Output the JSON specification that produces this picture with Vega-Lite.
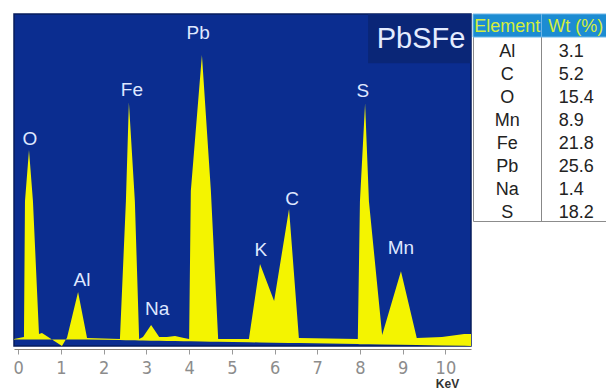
{
  "$schema": "https://vega.github.io/schema/vega-lite/v6.json",
  "background": "white",
  "padding": {"left": 12, "top": 13, "right": 0, "bottom": 0},
  "spacing": 0,
  "datasets": {
    "spectrum": [
      {"kev": -0.1, "counts": 0.15, "base": 0},
      {"kev": 0.133, "counts": 0.77, "base": 0},
      {"kev": 0.157, "counts": 42.5, "base": 0},
      {"kev": 0.251, "counts": 58.2, "base": 0},
      {"kev": 0.344, "counts": 42.5, "base": 0},
      {"kev": 0.485, "counts": 1.69, "base": 0},
      {"kev": 0.555, "counts": 2.0, "base": 0},
      {"kev": 1.023, "counts": -2.0, "base": 0},
      {"kev": 1.12, "counts": 0.15, "base": 0},
      {"kev": 1.14, "counts": 0.46, "base": 0},
      {"kev": 1.40, "counts": 14.6, "base": 0},
      {"kev": 1.61, "counts": 0.46, "base": -0.02},
      {"kev": 2.38, "counts": 0.15, "base": -0.19},
      {"kev": 2.52, "counts": 42.5, "base": -0.22},
      {"kev": 2.59, "counts": 72.9, "base": -0.24},
      {"kev": 2.73, "counts": 42.5, "base": -0.27},
      {"kev": 2.83, "counts": 0.15, "base": -0.29},
      {"kev": 2.92, "counts": 0.77, "base": -0.31},
      {"kev": 3.11, "counts": 4.45, "base": -0.35},
      {"kev": 3.30, "counts": 0.77, "base": -0.40},
      {"kev": 3.48, "counts": 0.77, "base": -0.44},
      {"kev": 3.67, "counts": 1.08, "base": -0.48},
      {"kev": 3.88, "counts": 0.46, "base": -0.52},
      {"kev": 4.00, "counts": 0.15, "base": -0.55},
      {"kev": 4.04, "counts": 45.6, "base": -0.56},
      {"kev": 4.30, "counts": 87.4, "base": -0.62},
      {"kev": 4.51, "counts": 45.6, "base": -0.66},
      {"kev": 4.68, "counts": 0.15, "base": -0.70},
      {"kev": 5.40, "counts": 0.15, "base": -0.86},
      {"kev": 5.66, "counts": 23.2, "base": -0.91},
      {"kev": 5.99, "counts": 11.8, "base": -0.99},
      {"kev": 6.34, "counts": 40.1, "base": -1.06},
      {"kev": 6.57, "counts": 0.46, "base": -1.11},
      {"kev": 7.95, "counts": 0.15, "base": -1.42},
      {"kev": 8.00, "counts": 42.5, "base": -1.43},
      {"kev": 8.12, "counts": 72.6, "base": -1.45},
      {"kev": 8.21, "counts": 42.5, "base": -1.47},
      {"kev": 8.52, "counts": 1.38, "base": -1.54},
      {"kev": 8.96, "counts": 21.0, "base": -1.64},
      {"kev": 9.33, "counts": 0.46, "base": -1.72},
      {"kev": 9.92, "counts": 0.77, "base": -1.85},
      {"kev": 10.44, "counts": 1.69, "base": -1.96},
      {"kev": 10.60, "counts": 1.69, "base": -2.0}
    ],
    "peaks": [
      {"element": "O", "kev": 0.27, "counts": 61.6},
      {"element": "Al", "kev": 1.49, "counts": 18.3},
      {"element": "Fe", "kev": 2.66, "counts": 76.7},
      {"element": "Na", "kev": 3.25, "counts": 9.4},
      {"element": "Pb", "kev": 4.21, "counts": 94.2},
      {"element": "K", "kev": 5.68, "counts": 27.5},
      {"element": "C", "kev": 6.41, "counts": 43.2},
      {"element": "S", "kev": 8.07, "counts": 76.3},
      {"element": "Mn", "kev": 8.96, "counts": 28.1}
    ],
    "composition": [
      {"element": "Al", "wt": 3.1},
      {"element": "C", "wt": 5.2},
      {"element": "O", "wt": 15.4},
      {"element": "Mn", "wt": 8.9},
      {"element": "Fe", "wt": 21.8},
      {"element": "Pb", "wt": 25.6},
      {"element": "Na", "wt": 1.4},
      {"element": "S", "wt": 18.2}
    ],
    "headers": [
      {"col": "Element"},
      {"col": "Wt (%)"}
    ],
    "sample": [
      {"label": "PbSFe"}
    ]
  },
  "hconcat": [
    {
      "width": 457,
      "height": 332,
      "view": {"fill": "#0b2d90", "stroke": "#071c5c", "strokeWidth": 1.5},
      "layer": [
        {
          "data": {"name": "spectrum"},
          "mark": {"type": "area", "color": "#f4f400", "interpolate": "linear", "opacity": 1},
          "encoding": {
            "x": {
              "field": "kev", "type": "quantitative",
              "scale": {"domain": [-0.1, 10.6], "nice": false, "zero": false},
              "axis": {
                "values": [0, 1, 2, 3, 4, 5, 6, 7, 8, 9, 10],
                "title": "KeV",
                "grid": false,
                "offset": 3,
                "domainColor": "#8b8378",
                "domainWidth": 1.2,
                "tickColor": "#999999",
                "tickSize": 5,
                "labelFont": "Liberation Sans Narrow, DejaVu Sans Condensed, sans-serif",
                "labelFontSize": 18,
                "labelColor": "#8c8c8c",
                "labelPadding": 5,
                "labelFlush": false,
                "titleFont": "Liberation Sans",
                "titleFontWeight": "bold",
                "titleFontSize": 12,
                "titleColor": "#333333",
                "titleX": 433,
                "titleY": 38,
                "titleAlign": "center",
                "titleBaseline": "alphabetic"
              }
            },
            "y": {
              "field": "counts", "type": "quantitative",
              "scale": {"domain": [-2, 100], "nice": false, "zero": false},
              "axis": null
            },
            "y2": {"field": "base"}
          }
        },
        {
          "data": {"name": "peaks"},
          "mark": {"type": "text", "font": "Liberation Sans", "fontSize": 19, "fill": "#dfe7ff", "baseline": "middle", "align": "center"},
          "encoding": {
            "x": {"field": "kev", "type": "quantitative"},
            "y": {"field": "counts", "type": "quantitative"},
            "text": {"field": "element"}
          }
        },
        {
          "data": {"name": "sample"},
          "mark": {"type": "rect", "color": "#0a2677"},
          "encoding": {
            "x": {"datum": 8.19},
            "x2": {"datum": 10.6},
            "y": {"datum": 100},
            "y2": {"datum": 84.9}
          }
        },
        {
          "data": {"name": "sample"},
          "mark": {"type": "text", "font": "Liberation Sans", "fontSize": 29, "fill": "#e4ecff", "baseline": "alphabetic", "align": "center"},
          "encoding": {
            "x": {"datum": 9.43},
            "y": {"datum": 89.6},
            "text": {"field": "label"}
          }
        }
      ]
    },
    {
      "width": 137,
      "height": 207,
      "view": {"fill": "white", "stroke": "#8c8c8c"},
      "layer": [
        {
          "data": {"name": "headers"},
          "mark": {"type": "rule", "color": "#888888"},
          "encoding": {
            "x": {"datum": "Wt (%)", "bandPosition": 0, "scale": {"domain": ["Element", "Wt (%)"], "paddingInner": 0, "paddingOuter": 0}, "axis": null}
          }
        },
        {
          "data": {"name": "headers"},
          "mark": {"type": "rect", "fill": "#1c8cd2", "stroke": "#6cb6e8", "strokeWidth": 1},
          "encoding": {
            "x": {"field": "col", "type": "nominal", "axis": null},
            "y": {"datum": "hdr", "type": "nominal", "scale": {"domain": ["hdr", "Al", "C", "O", "Mn", "Fe", "Pb", "Na", "S"], "paddingInner": 0, "paddingOuter": 0}, "axis": null}
          }
        },
        {
          "data": {"name": "headers"},
          "mark": {"type": "text", "font": "Liberation Sans", "fontSize": 18, "fill": "#d4ee3c", "baseline": "middle", "align": "center", "dy": 1},
          "encoding": {
            "x": {"field": "col", "type": "nominal"},
            "y": {"datum": "hdr", "type": "nominal"},
            "text": {"field": "col"}
          }
        },
        {
          "data": {"name": "composition"},
          "mark": {"type": "text", "font": "Liberation Sans", "fontSize": 18, "fill": "#222222", "baseline": "middle", "align": "center", "dy": 3},
          "encoding": {
            "x": {"datum": "Element"},
            "y": {"field": "element", "type": "nominal"},
            "text": {"field": "element"}
          }
        },
        {
          "data": {"name": "composition"},
          "mark": {"type": "text", "font": "Liberation Sans", "fontSize": 18, "fill": "#222222", "baseline": "middle", "align": "left", "dy": 3},
          "encoding": {
            "x": {"datum": "Wt (%)", "bandPosition": 0.25},
            "y": {"field": "element", "type": "nominal"},
            "text": {"field": "wt", "type": "quantitative", "format": ".1f"}
          }
        }
      ]
    }
  ]
}
